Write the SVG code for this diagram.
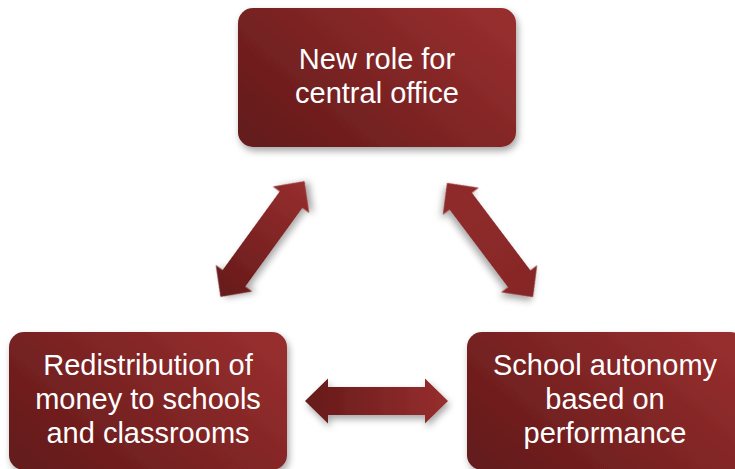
<svg xmlns="http://www.w3.org/2000/svg" width="735" height="469" viewBox="0 0 735 469">
  <defs>
    <linearGradient id="boxGrad" x1="0" y1="0.8" x2="1" y2="0.2">
      <stop offset="0" stop-color="#651a1a"/>
      <stop offset="1" stop-color="#972e2e"/>
    </linearGradient>
    <linearGradient id="arrowGrad" x1="0" y1="0" x2="1" y2="0">
      <stop offset="0" stop-color="#661a1a"/>
      <stop offset="1" stop-color="#972e2e"/>
    </linearGradient>
    <linearGradient id="arrowGradR" x1="0" y1="0" x2="1" y2="0">
      <stop offset="0" stop-color="#902b2b"/>
      <stop offset="1" stop-color="#862727"/>
    </linearGradient>
    <filter id="shadow" x="-20%" y="-20%" width="140%" height="150%">
      <feDropShadow dx="2" dy="4" stdDeviation="3.5" flood-color="#000" flood-opacity="0.35"/>
    </filter>
    <path id="dblArrow" d="M-71.5,0 L-48.5,-22.5 L-48.5,-14 L48.5,-14 L48.5,-22.5 L71.5,0 L48.5,22.5 L48.5,14 L-48.5,14 L-48.5,22.5 Z"/>
  </defs>
  <style>
    .box { fill: url(#boxGrad); filter: url(#shadow); }
    .lbl { font-family: "Liberation Sans", Arial, sans-serif; font-size: 29px; fill: #ffffff; text-anchor: middle; }
    .arr { filter: url(#shadow); }
  </style>
  <rect width="735" height="469" fill="#ffffff"/>

  <g id="connectors">
    <use href="#dblArrow" class="arr" fill="url(#arrowGrad)" transform="translate(262.5,239) rotate(-54)"/>
    <use href="#dblArrow" class="arr" fill="url(#arrowGradR)" transform="translate(490,240) rotate(53)"/>
    <use href="#dblArrow" class="arr" fill="url(#arrowGrad)" transform="translate(376.5,401)"/>
  </g>

  <g id="node-central-office">
    <rect class="box" x="238" y="8" width="278" height="139" rx="15" ry="15"/>
    <text class="lbl" x="377" y="69">New role for</text>
    <text class="lbl" x="377" y="103">central office</text>
  </g>

  <g id="node-redistribution">
    <rect class="box" x="9" y="332" width="278" height="138" rx="15" ry="15"/>
    <text class="lbl" x="148" y="375">Redistribution of</text>
    <text class="lbl" x="148" y="409">money to schools</text>
    <text class="lbl" x="148" y="443">and classrooms</text>
  </g>

  <g id="node-school-autonomy">
    <rect class="box" x="467" y="332" width="278" height="138" rx="15" ry="15"/>
    <text class="lbl" x="605" y="375">School autonomy</text>
    <text class="lbl" x="605" y="409">based on</text>
    <text class="lbl" x="605" y="443">performance</text>
  </g>
</svg>
